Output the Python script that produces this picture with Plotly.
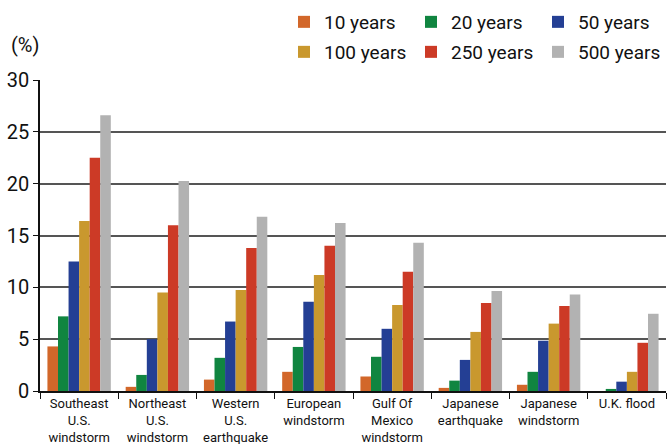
import plotly.graph_objects as go

categories = ["Southeast<br>U.S.<br>windstorm", "Northeast<br>U.S.<br>windstorm",
              "Western<br>U.S.<br>earthquake", "European<br>windstorm",
              "Gulf Of<br>Mexico<br>windstorm", "Japanese<br>earthquake",
              "Japanese<br>windstorm", "U.K. flood"]

series_names = ["10 years", "20 years", "50 years", "100 years", "250 years", "500 years"]
colors = ["#D2672A", "#108540", "#243F94", "#C9982E", "#CC3A26", "#B2B2B2"]

y10 = [4.3, 0.4, 1.1, 1.85, 1.4, 0.3, 0.6, 0.0]
y20 = [7.2, 1.55, 3.2, 4.25, 3.3, 1.0, 1.85, 0.2]
y50 = [12.5, 5.0, 6.7, 8.6, 6.0, 3.0, 4.85, 0.9]
y100 = [16.4, 9.5, 9.75, 11.2, 8.3, 5.7, 6.5, 1.85]
y250 = [22.5, 16.0, 13.8, 14.0, 11.5, 8.5, 8.2, 4.65]
y500 = [26.6, 20.25, 16.8, 16.2, 14.3, 9.65, 9.3, 7.45]
values = [y10, y20, y50, y100, y250, y500]

FONT = "Roboto, sans-serif"

L, R, T, B = 40, 6, 80, 53
W, H = 672, 444
PW, PH = W - L - R, H - T - B

fig = go.Figure()
for i, (name, col, vals) in enumerate(zip(series_names, colors, values)):
    fig.add_trace(go.Bar(
        x=categories, y=vals, name=name, marker=dict(color=col, line=dict(width=0)),
        legend="legend" if i < 3 else "legend2",
    ))

legend_common = dict(
    orientation="h", xanchor="left", yanchor="middle", xref="container", yref="container",
    font=dict(family=FONT, size=19, color="#111"),
    bgcolor="rgba(0,0,0,0)", itemwidth=30, entrywidth=82, entrywidthmode="pixels",
    tracegroupgap=0, itemclick=False, itemdoubleclick=False,
)

fig.update_layout(
    width=W, height=H,
    margin=dict(l=L, r=R, t=T, b=B),
    paper_bgcolor="white", plot_bgcolor="white",
    barmode="group", bargap=0.19, bargroupgap=0,
    font=dict(family=FONT, size=13, color="#111"),
    legend=dict(x=284 / W, y=1 - 22 / H, **legend_common),
    legend2=dict(x=284 / W, y=1 - 52 / H, **legend_common),
    xaxis=dict(
        showline=True, linecolor="#111", linewidth=1.5, automargin=False, tickangle=0,
        ticks="outside", tickson="boundaries", ticklen=6, tickcolor="#111",
        tickfont=dict(family=FONT, size=13, color="#111"),
        showgrid=False,
    ),
    yaxis=dict(
        range=[0, 30], dtick=5, showline=True, linecolor="#111", linewidth=1.5,
        ticks="outside", ticklen=5, tickcolor="#111", automargin=False,
        tickfont=dict(family=FONT, size=20, color="#111"),
        showgrid=True, gridcolor="#555", gridwidth=1.5, zeroline=False,
    ),
    annotations=[dict(text="(%)", x=(9 - L) / PW, y=(H - B - 45) / PH, xref="paper", yref="paper",
                      showarrow=False, font=dict(family=FONT, size=20, color="#111"),
                      xanchor="left", yanchor="middle")],
)
fig.write_html("out.html")
